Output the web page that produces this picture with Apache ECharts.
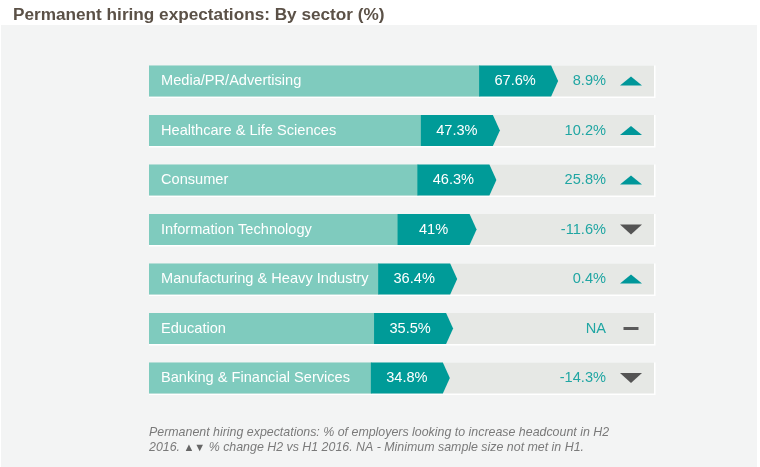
<!DOCTYPE html>
<html>
<head>
<meta charset="utf-8">
<script src="https://cdn.jsdelivr.net/npm/echarts@6/dist/echarts.min.js"></script>
<style>
html,body{margin:0;padding:0;background:#ffffff;}
#chart{width:760px;height:467px;}
</style>
</head>
<body>
<div id="chart"></div>
<script>
var categories = [
  'Media/PR/Advertising',
  'Healthcare & Life Sciences',
  'Consumer',
  'Information Technology',
  'Manufacturing & Heavy Industry',
  'Education',
  'Banking & Financial Services'
];
var hiring = [67.6, 47.3, 46.3, 41, 36.4, 35.5, 34.8];
var change = [8.9, 10.2, 25.8, -11.6, 0.4, null, -14.3];

var FONT = "'Liberation Sans', Arial, Helvetica, sans-serif";
var seriesData = hiring.map(function (v, i) { return [v, i, change[i]]; });

function renderItem(params, api) {
  var idx = api.value(1);
  var pt = api.coord([api.value(0), idx]);
  var tipX = pt[0], cy = pt[1];
  var cs = params.coordSys;
  var left = cs.x, right = cs.x + cs.width;
  var h = 31, top = cy - h / 2, bottom = cy + h / 2;
  var segW = 79, tipD = 7;
  var ch = change[idx];
  var chText = (ch === null) ? 'NA' : (ch + '%');
  var ix = right - 23;
  var icon;
  if (ch === null) {
    icon = { type: 'rect', shape: { x: ix - 7.5, y: cy - 1.5, width: 15, height: 3 }, style: { fill: '#5a5a5a' } };
  } else if (ch >= 0) {
    icon = { type: 'polygon', shape: { points: [[ix - 11, cy + 4.5], [ix + 11, cy + 4.5], [ix, cy - 4.5]] }, style: { fill: '#00979a' } };
  } else {
    icon = { type: 'polygon', shape: { points: [[ix - 11, cy - 5], [ix + 11, cy - 5], [ix, cy + 5]] }, style: { fill: '#545454' } };
  }
  return {
    type: 'group',
    children: [
      { type: 'rect', shape: { x: left, y: top, width: right - left + 1.5, height: h + 1.5 }, style: { fill: '#ffffff' } },
      { type: 'rect', shape: { x: left, y: top, width: right - left, height: h }, style: { fill: '#e6e8e5' } },
      { type: 'rect', shape: { x: left, y: top, width: tipX - segW - left + 1, height: h }, style: { fill: '#7fcbbe' } },
      { type: 'polygon', shape: { points: [[tipX - segW, top], [tipX - tipD, top], [tipX, cy], [tipX - tipD, bottom], [tipX - segW, bottom]] }, style: { fill: '#009b98' } },
      { type: 'text', style: { x: left + 12, y: cy, text: categories[idx], fill: '#ffffff', font: '14.6px ' + FONT, align: 'left', verticalAlign: 'middle' } },
      { type: 'text', style: { x: tipX - segW + (segW - tipD) / 2, y: cy, text: api.value(0) + '%', fill: '#ffffff', font: '14.6px ' + FONT, align: 'center', verticalAlign: 'middle' } },
      { type: 'text', style: { x: right - 48, y: cy, text: chText, fill: '#20a6a3', font: '14.6px ' + FONT, align: 'right', verticalAlign: 'middle' } },
      icon
    ]
  };
}

var chart = echarts.init(document.getElementById('chart'), null, { renderer: 'canvas' });
chart.setOption({
  animation: false,
  backgroundColor: '#ffffff',
  title: {
    text: 'Permanent hiring expectations: By sector (%)',
    left: 8, top: 2,
    textStyle: { fontFamily: FONT, fontSize: 17.2, fontWeight: 'bold', color: '#5b5147' }
  },
  graphic: [
    { type: 'rect', z: -10, shape: { x: 1, y: 25, width: 756, height: 442 }, style: { fill: '#f3f4f4' } },
    {
      type: 'text', left: 149, top: 424.5,
      style: {
        text: 'Permanent hiring expectations: % of employers looking to increase headcount in H2\n2016. {t|▲▼} % change H2 vs H1 2016. NA - Minimum sample size not met in H1.',
        fill: '#7a7a7a',
        font: 'italic 12.4px ' + FONT,
        lineHeight: 15.5,
        rich: { t: { fontSize: 11, fill: '#666666', fontStyle: 'normal', fontFamily: FONT } }
      }
    }
  ],
  grid: { left: 149, right: 106, top: 56.25, bottom: 64.25 },
  xAxis: { type: 'log', logBase: 10, min: 5.5, max: 121.7, show: false },
  yAxis: { type: 'category', data: categories, inverse: true, show: false },
  series: [{
    type: 'custom',
    renderItem: renderItem,
    encode: { x: 0, y: 1 },
    data: seriesData
  }]
});
</script>
</body>
</html>
